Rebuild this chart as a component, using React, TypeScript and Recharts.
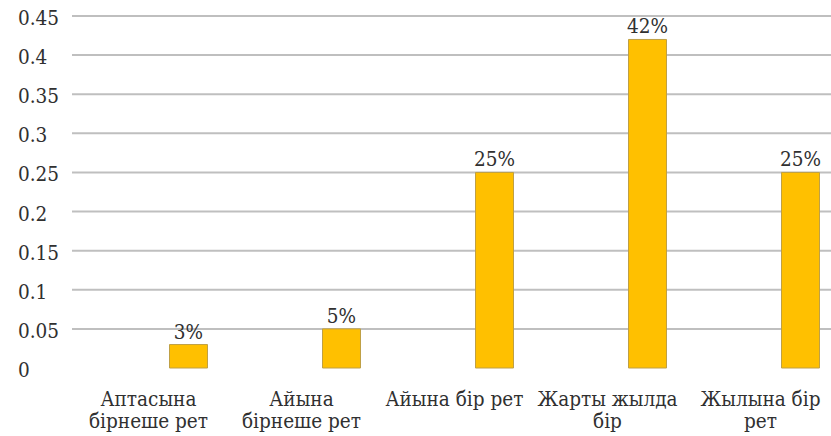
import React from "react";
import { BarChart, Bar, XAxis, YAxis, CartesianGrid, LabelList } from "recharts";

const categories = [
  "Аптасына\nбірнеше рет",
  "Айына\nбірнеше рет",
  "Айына бір рет",
  "Жарты жылда\nбір",
  "Жылына бір\nрет",
];
const values = [0.03, 0.05, 0.25, 0.42, 0.25];
const yTicks = [0, 0.05, 0.1, 0.15, 0.2, 0.25, 0.3, 0.35, 0.4, 0.45];

const data = categories.map((c, i) => ({ name: c, value: values[i] }));

const FONT = "DejaVu Serif";
const TEXT = "#303030";
const FS = 21;
const SX = 0.88;

const T = ({ x, y, anchor, children }: any) => (
  <text
    transform={`translate(${x},${y}) scale(${SX},1)`}
    x={0}
    y={0}
    textAnchor={anchor}
    fontFamily={FONT}
    fontSize={FS}
    fill={TEXT}
  >
    {children}
  </text>
);

const YTick = (props: any) => {
  const { y, payload } = props;
  return <T x={18} y={y + 9} anchor="start">{String(payload.value)}</T>;
};

const XTick = (props: any) => {
  const { x, y, payload } = props;
  const lines = String(payload.value).split("\n");
  return (
    <g>
      {lines.map((l, i) => (
        <T key={i} x={x} y={y + i * 22} anchor="middle">{l}</T>
      ))}
    </g>
  );
};

const BarLabel = (props: any) => {
  const { x, y, width, value } = props;
  return (
    <T x={Number(x) + Number(width) / 2} y={Number(y) - 6} anchor="middle">
      {`${Math.round(Number(value) * 100)}%`}
    </T>
  );
};

export default function App() {
  return (
    <div style={{ position: "absolute", left: 0, top: 0, width: 831, height: 436, overflow: "hidden", background: "#fff" }}>
      <BarChart
        width={916}
        height={436}
        data={data}
        margin={{ top: 16, right: 0, bottom: 8, left: 0 }}
      >
        <CartesianGrid
          vertical={false}
          stroke="#BFBFBF"
          strokeWidth={2}
          horizontalValues={yTicks.filter((v) => v > 0)}
        />
        <XAxis
          xAxisId="labels"
          dataKey="name"
          height={60}
          axisLine={false}
          tickLine={false}
          interval={0}
          padding={{ left: 0, right: 79 }}
          tick={<XTick />}
        />
        <XAxis
          xAxisId="bars"
          dataKey="name"
          hide
          padding={{ left: 39.5, right: 39.5 }}
        />
        <YAxis
          width={72}
          domain={[0, 0.45]}
          ticks={yTicks}
          axisLine={false}
          tickLine={false}
          tick={<YTick />}
        />
        <Bar
          xAxisId="bars"
          dataKey="value"
          fill="#FFC000"
          stroke="#BFA045"
          strokeWidth={1}
          barSize={38}
          isAnimationActive={false}
        >
          <LabelList dataKey="value" content={<BarLabel />} />
        </Bar>
      </BarChart>
    </div>
  );
}
